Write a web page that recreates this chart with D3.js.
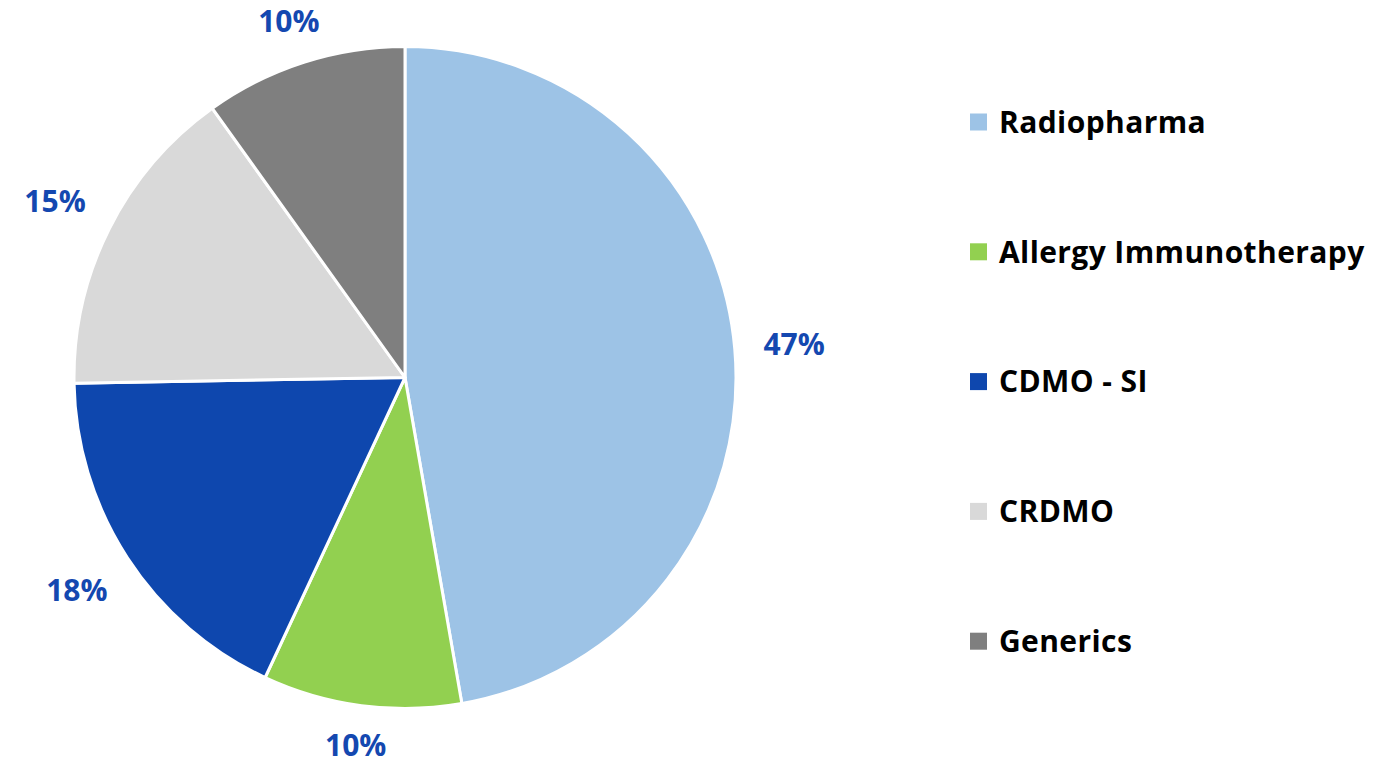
<!DOCTYPE html>
<meta charset="utf-8">
<html lang="en">
<head>
  <title>Revenue split pie</title>
  <script src="https://d3js.org/d3.v7.min.js"></script>
  <style>
    body { margin: 0; background: #fff; }
    text { font-family: "Open Sans", Lato, sans-serif; font-weight: 700; }
  </style>
</head>
<body>
<div id="chart"></div>
<script>
// segments, clockwise from 12 o'clock
var segments = ["Radiopharma", "Allergy Immunotherapy", "CDMO - SI", "CRDMO", "Generics"];
var shares = [47.3, 9.7, 17.8, 15.4, 9.9];
var colors = ["#9dc3e6", "#92d050", "#0e47ae", "#d9d9d9", "#7f7f7f"];

var width = 1373, height = 765;
var cx = 405, cy = 377.5, radius = 331;

var svg = d3.select("#chart").append("svg")
  .attr("width", width)
  .attr("height", height);

var pie = d3.pie().sort(null).value(function(d) { return d; });
var arcs = pie(shares);

var arc = d3.arc().innerRadius(0).outerRadius(radius);

var g = svg.append("g").attr("transform", "translate(" + cx + "," + cy + ")");

g.selectAll("path")
  .data(arcs)
  .enter()
  .append("path")
    .attr("d", arc)
    .attr("fill", function(d, i) { return colors[i]; })
    .attr("stroke", "#fff")
    .attr("stroke-width", 3)
    .attr("stroke-linejoin", "round");

// outside-end labels: box sits a fixed gap outside the rim
var labelSize = 30, gap = 28;
g.selectAll("text.pct")
  .data(arcs)
  .enter()
  .append("text")
    .attr("class", "pct")
    .attr("text-anchor", "middle")
    .attr("dy", "0.36em")
    .style("font-size", labelSize + "px")
    .style("fill", "#1448b0")
    .text(function(d) { return Math.round(d.data) + "%"; })
    .each(function(d) {
      var a = (d.startAngle + d.endAngle) / 2;
      var bb = this.getBBox();
      var s = Math.abs(Math.sin(a)), c = Math.abs(Math.cos(a));
      var dist = radius + gap + s * bb.width / 2 + c * 12;
      var y = -Math.cos(a) * dist;
      var sel = d3.select(this)
        .attr("x", Math.sin(a) * dist)
        .attr("y", y);
      // keep the label inside the picture
      var b2 = this.getBBox();
      if (cy + b2.y < 0) sel.attr("y", y - (cy + b2.y));
      if (cy + b2.y + b2.height > height) sel.attr("y", y - (cy + b2.y + b2.height - height));
    });

// legend
var legend = svg.append("g").attr("transform", "translate(970,122)");
var rowGap = 129.8;

var item = legend.selectAll("g")
  .data(segments)
  .enter()
  .append("g")
    .attr("transform", function(d, i) { return "translate(0," + (i * rowGap) + ")"; });

item.append("rect")
  .attr("x", 0)
  .attr("y", -8.5)
  .attr("width", 17)
  .attr("height", 17)
  .attr("fill", function(d, i) { return colors[i]; });

item.append("text")
  .attr("x", 29)
  .attr("y", 0)
  .attr("dy", "0.36em")
  .style("font-size", "30px")
  .style("letter-spacing", "0.4px")
  .style("fill", "#000")
  .text(function(d) { return d; });
</script>
</body>
</html>
